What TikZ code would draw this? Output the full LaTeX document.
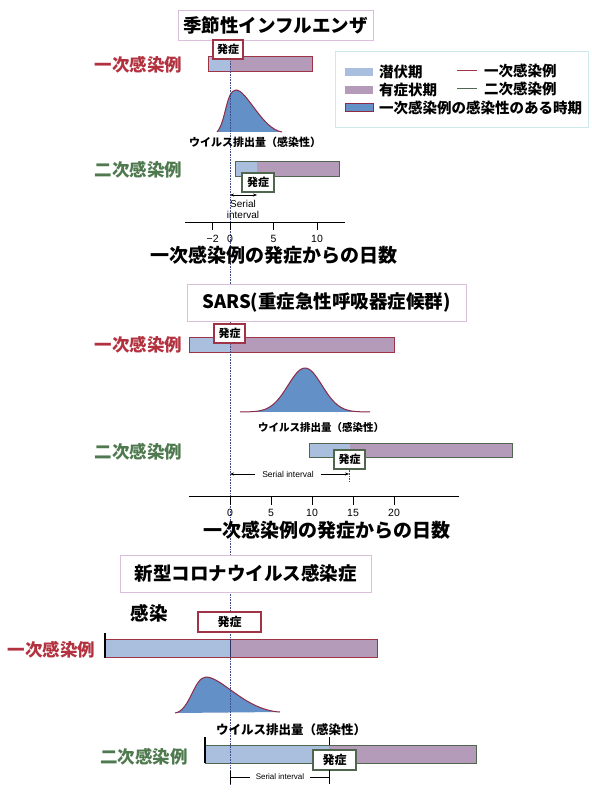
\documentclass[tikz,border=0pt]{standalone}
\usepackage{fontspec}
\setmainfont{Noto Sans CJK JP}
\newfontfamily\latinsf{Liberation Sans}
\usetikzlibrary{arrows.meta,calc,positioning}
\definecolor{incFill}{HTML}{A9BFDD}
\definecolor{symFill}{HTML}{B49BBA}
\definecolor{priEdge}{HTML}{A03447}
\definecolor{priText}{HTML}{B3323F}
\definecolor{secEdge}{HTML}{51664F}
\definecolor{secText}{HTML}{4F7A4F}
\definecolor{shedFill}{HTML}{6390C6}
\definecolor{shedEdge}{HTML}{8E2A44}
\definecolor{titleEdge}{HTML}{D9BFDA}
\definecolor{legEdge}{HTML}{CDE9EE}
\definecolor{guideBlue}{HTML}{3F4C8C}
\newcommand{\FigTitle}{\fontsize{18.5}{22}\selectfont\bfseries}
\newcommand{\FigCase}{\fontsize{17.5}{20}\selectfont\bfseries}
\newcommand{\FigAxis}{\fontsize{19}{22}\selectfont\bfseries}
\newcommand{\FigOnset}{\fontsize{11}{13}\selectfont\bfseries}
\newcommand{\FigLegend}{\fontsize{14.5}{17}\selectfont\bfseries}
\newcommand{\FigTick}{\latinsf\fontsize{10.5}{12}\selectfont}
\newcommand{\FigSerial}{\latinsf\fontsize{10}{11.5}\selectfont}

\begin{document}
\begin{tikzpicture}[
  x=1pt, y=-1pt,
  title/.style   = {draw=titleEdge, line width=0.8pt, fill=white, font=\FigTitle, inner sep=0pt},
  onsetA/.style  = {draw=priEdge, line width=1.3pt, fill=white, font=\FigOnset, inner sep=0pt},
  onsetB/.style  = {draw=secEdge, line width=1.3pt, fill=white, font=\FigOnset, inner sep=0pt},
  caseA/.style   = {text=priText, font=\FigCase, inner sep=0pt},
  caseB/.style   = {text=secText, font=\FigCase, inner sep=0pt},
  priBar/.style  = {draw=priEdge, line width=1pt},
  secBar/.style  = {draw=secEdge, line width=1pt},
  shedLine/.style= {draw=shedEdge, line width=1pt},
  shedText/.style= {font=\fontsize{11}{13}\selectfont\bfseries, inner sep=0pt},
  guide/.style   = {draw=guideBlue, densely dotted, line width=0.6pt},
  serial/.style  = {{Stealth[length=4pt,width=3pt]}-{Stealth[length=4pt,width=3pt]}, line width=0.5pt},
  axis/.style    = {line width=0.8pt},
  tick/.style    = {font=\FigTick, inner sep=0pt},
  legText/.style = {font=\FigLegend, anchor=west, inner sep=0pt},
]
\useasboundingbox (0,0) rectangle (591,799);
\fill[white] (0,0) rectangle (591,799);

% ---------------------------------------------------------------- bars and shedding curves
% seasonal influenza
\fill[incFill] (208,57) rectangle (230,72);
\fill[symFill] (230,57) rectangle (312,72);
\draw[priBar] (208,57) rectangle (312,72);
\fill[shedFill] (217,132) .. controls (226,122) and (226,90) .. (236,90)
  .. controls (247,90) and (262,129) .. (282,132) -- cycle;
\draw[shedLine] (217,132) .. controls (226,122) and (226,90) .. (236,90)
  .. controls (247,90) and (262,129) .. (282,132);
\fill[incFill] (235,162) rectangle (257,177);
\fill[symFill] (257,162) rectangle (339,177);
\draw[secBar] (235,162) rectangle (339,177);

% SARS
\fill[incFill] (189,337) rectangle (230,352);
\fill[symFill] (230,337) rectangle (394,352);
\draw[priBar] (189,337) rectangle (394,352);
\fill[shedFill] plot[domain=240:370, samples=70] (\x, {412-44*exp(-((\x-305)/24)^2)}) -- cycle;
\draw[shedLine] plot[domain=240:370, samples=70] (\x, {412-44*exp(-((\x-305)/24)^2)});
\fill[incFill] (309,443) rectangle (350,457);
\fill[symFill] (350,443) rectangle (512,457);
\draw[secBar] (309,443) rectangle (512,457);

% novel coronavirus
\fill[incFill] (105,639) rectangle (230,657);
\fill[symFill] (230,639) rectangle (377,657);
\draw[priBar] (105,639) rectangle (377,657);
\fill[shedFill] (175,713) .. controls (190,711) and (194,677) .. (206,677)
  .. controls (222,677) and (245,710) .. (280,712) -- cycle;
\draw[shedLine] (175,713) .. controls (190,711) and (194,677) .. (206,677)
  .. controls (222,677) and (245,710) .. (280,712);
\fill[incFill] (205,745) rectangle (329,763);
\fill[symFill] (329,745) rectangle (476,763);
\draw[secBar] (205,745) rectangle (476,763);

% onset of the primary case
\draw[guide] (230,45) -- (230,785);

% ---------------------------------------------------------------- (1) seasonal influenza
\node[title, minimum width=195pt, minimum height=30pt] (ttlFlu) at (275.5,25) {季節性インフルエンザ};
\node[caseA] (fluPri) at (138.5,65) {一次感染例};
\node[onsetA, minimum width=30pt, minimum height=19pt] (fluOnA) at (228,49.5) {発症};
\node[shedText] (fluShed) at (255,142) {ウイルス排出量（感染性）};
\node[caseB] (fluSec) at (138.5,170) {二次感染例};
\node[onsetB, minimum width=32pt, minimum height=19pt] (fluOnB) at (258,182.5) {発症};

\coordinate (fluSiL) at (230,195);
\coordinate (fluSiR) at (257,195);
\draw[serial] (fluSiL) -- (fluSiR);
\node[font=\FigSerial, align=center, inner sep=0pt] (fluSi) at (243,209.5) {Serial\\[-1pt]interval};

\coordinate (fluAxL) at (185,222);
\coordinate (fluAxR) at (345,222);
\draw[axis] (fluAxL) -- (fluAxR);
\foreach \d/\lab in {-2/−2, 0/0, 5/5, 10/10} {
  \draw[axis] (230+8.7*\d,222) -- ++(0,8);
  \node[tick] (fluTk\d) at (230+8.7*\d,239) {\lab};
}
\node[font=\FigAxis, inner sep=0pt] (fluAxis) at (274,255) {一次感染例の発症からの日数};

% legend
\draw[draw=legEdge, line width=1pt, fill=white] (335,52) rectangle (588,128);
\fill[incFill] (345,68) rectangle (373,76);
\fill[symFill] (345,86) rectangle (373,94);
\filldraw[fill=shedFill, draw=shedEdge, line width=1pt] (345,104) rectangle (373,112);
\node[legText] (legInc) at (379,72) {潜伏期};
\node[legText] (legSym) at (379,90) {有症状期};
\node[legText] (legShed) at (379,108) {一次感染例の感染性のある時期};
\coordinate (legPriL) at (457,71);
\coordinate (legPriR) at (477,71);
\coordinate (legSecL) at (457,89);
\coordinate (legSecR) at (477,89);
\draw[priEdge, line width=1pt] (legPriL) -- (legPriR);
\draw[secEdge, line width=1pt] (legSecL) -- (legSecR);
\node[legText] (legPri) at (484,71) {一次感染例};
\node[legText] (legSec) at (484,89) {二次感染例};

% ---------------------------------------------------------------- (2) SARS
\node[title, minimum width=279pt, minimum height=37pt] (ttlSars) at (326.5,302.5) {SARS(重症急性呼吸器症候群)};
\node[caseA] (sarsPri) at (138.5,345) {一次感染例};
\node[onsetA, minimum width=31pt, minimum height=19pt] (sarsOnA) at (229.5,333.5) {発症};
\node[shedText, font=\fontsize{10.5}{12}\selectfont\bfseries] (sarsShed) at (321,427) {ウイルス排出量（感染性）};
\node[caseB] (sarsSec) at (138.5,452) {二次感染例};
\node[onsetB, minimum width=31pt, minimum height=19pt] (sarsOnB) at (349.5,459.5) {発症};

\coordinate (sarsSiL) at (230,474);
\coordinate (sarsSiR) at (349,474);
\draw[guide] (sarsOnB.south) -- ++(0,12);
\draw[serial] (sarsSiL) -- (sarsSiR);
\node[font=\fontsize{8.5}{10}\selectfont\latinsf, fill=white, inner xsep=7pt, inner ysep=1pt] (sarsSi) at (288,474) {Serial interval};

\coordinate (sarsAxL) at (189,496);
\coordinate (sarsAxR) at (459,496);
\draw[axis] (sarsAxL) -- (sarsAxR);
\foreach \d in {0,5,...,20} {
  \draw[axis] (230+8.2*\d,496) -- ++(0,9);
  \node[tick] (sarsTk\d) at (230+8.2*\d,513) {\d};
}
\node[font=\FigAxis, inner sep=0pt] (sarsAxis) at (327,530) {一次感染例の発症からの日数};

% ---------------------------------------------------------------- (3) novel coronavirus
\node[title, minimum width=251pt, minimum height=37pt] (ttlCov) at (245.5,573.5) {新型コロナウイルス感染症};
\node[font=\FigTitle, inner sep=0pt] (covInf) at (149,613) {感染};
\node[onsetA, minimum width=63pt, minimum height=20pt, font=\fontsize{12}{14}\selectfont\bfseries] (covOnA) at (229.5,622) {発症};
\node[caseA] (covPri) at (51.5,650) {一次感染例};
\draw[line width=1.2pt] (105,633) -- (105,658);
\draw[guideBlue!70!black, line width=1pt] (230,639) -- (230,657);

\node[shedText, font=\fontsize{12.5}{14}\selectfont\bfseries] (covShed) at (291,730) {ウイルス排出量（感染性）};
\node[caseB] (covSec) at (144,757) {二次感染例};
\draw[line width=1.2pt] (205,737) -- (205,763);
\draw[line width=1pt] (329,737) -- (329,745);
\node[onsetB, minimum width=43pt, minimum height=20pt, font=\fontsize{12}{14}\selectfont\bfseries] (covOnB) at (334.5,760) {発症};

\coordinate (covSiL) at (230,777);
\coordinate (covSiR) at (329,777);
\draw[line width=0.8pt] (covSiL) -- (covSiR);
\draw[line width=0.8pt] ($(covSiL)+(0,-6)$) -- ($(covSiL)+(0,7)$);
\draw[line width=0.8pt] ($(covSiR)+(0,-7)$) -- ($(covSiR)+(0,7)$);
\node[font=\fontsize{8}{9.5}\selectfont\latinsf, fill=white, inner xsep=6pt, inner ysep=1pt] (covSi) at (280,777) {Serial interval};

\end{tikzpicture}
\end{document}
